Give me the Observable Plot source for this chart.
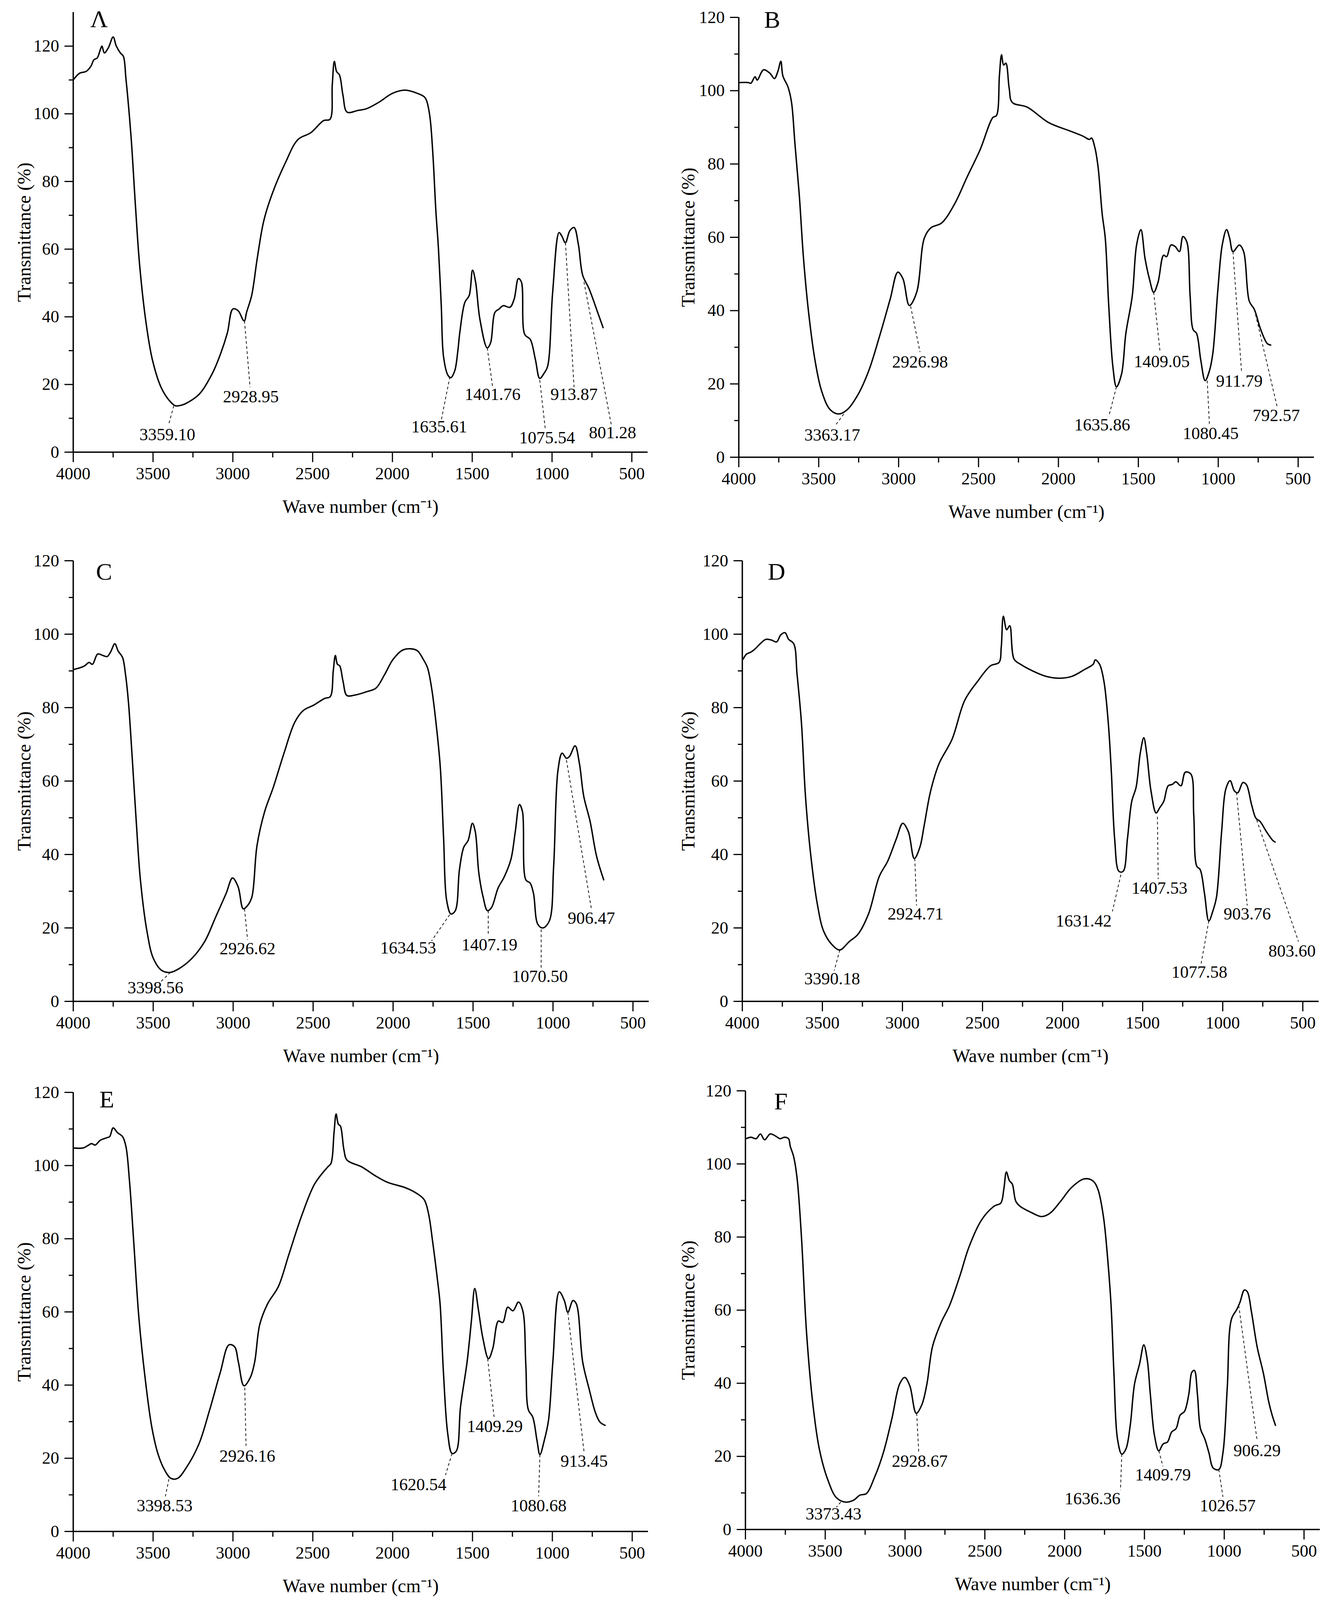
<!DOCTYPE html>
<html>
<head>
<meta charset="utf-8">
<script src="https://cdn.jsdelivr.net/npm/d3@7"></script>
<script src="https://cdn.jsdelivr.net/npm/@observablehq/plot@0.6"></script>
<style>
  html, body { margin: 0; padding: 0; background: #fff; overflow: hidden; }
  #page { position: relative; width: 3400px; height: 4284px; background: #fff; overflow: hidden; }
  .panel { position: absolute; }
  .panel svg { display: block; max-width: none !important; }
</style>
</head>
<body>
<div id="page"></div>
<script>
// ---------- axis ticks ----------
const majorX = [4000, 3500, 3000, 2500, 2000, 1500, 1000, 500];
const minorX = [3750, 3250, 2750, 2250, 1750, 1250, 750];
const majorY = [0, 20, 40, 60, 80, 100, 120];
const minorY = [10, 30, 50, 70, 90, 110];
const xTitle = "Wave number (cm\u207B\u00B9)";
const yTitle = "Transmittance (%)";

// ---------- panel A ----------
const waveA = [4000,3960,3920,3890,3870,3850,3830,3820,3805,3780,3750,3730,3705,3686,3670,3638,3611,3584,3544,3504,3450,3397,3360,3320,3289,3209,3128,3075,3034,3000,2967,2935,2927,2914,2882,2847,2806,2753,2672,2592,2512,2431,2391,2377,2364,2350,2332,2310,2284,2216,2163,2082,2002,1921,1841,1800,1787,1766,1747,1728,1712,1694,1680,1653,1635,1610,1590,1578,1546,1519,1498,1479,1452,1406,1385,1358,1332,1305,1264,1237,1211,1192,1171,1136,1104,1077,1050,1028,996,956,940,916,889,862,835,808,768,714,680];
const transA = [110,112,112.5,114,116,116.5,119,120,118,119.5,122.7,120,118,117,110.5,93.4,73.4,55.3,38.3,27.3,19.2,15.2,13.7,13.9,14.5,17.2,23.3,29.3,35.3,42.3,41.8,39,38.8,41.3,46.3,57.3,68.4,76.4,85.4,92.4,94.4,98,98.4,108.5,115.5,112.5,111.5,105.5,100.5,101,101.5,103.5,106,107,106,105,104,99.4,88.4,71.4,60.4,43.3,28.3,22.8,22,24,30,35.3,44.3,46.3,53.8,50.3,39.3,30.8,32.3,41.3,42.3,43.3,42.8,45.3,51.3,50.3,34.8,33.3,27.3,21.8,23.3,25.3,47.3,64.9,64,61.9,65.4,66.4,61.4,52.3,48.3,41.3,36.8];
const peakLabelA = ["3359.10","2928.95","1635.61","1401.76","1075.54","913.87","801.28"];
const peakWaveA = [3370, 2927, 1640, 1406, 1077, 916, 800];
const peakTransA = [13.7, 38.8, 22.3, 30.8, 21.3, 61.9, 50.3];
const leadWaveA = [3402, 2892, 1693, 1372, 1042, 862, 629];
const leadTransA = [8.2, 19.2, 9.7, 19.2, 6.7, 19.2, 8.2];
const textWaveA = [3410, 2887, 1707, 1372, 1031, 862, 621];
const textTransA = [5.2, 16.4, 7.4, 17, 4.2, 17, 5.7];

// ---------- panel B ----------
const waveB = [4000,3938,3925,3898,3885,3845,3804,3777,3756,3737,3724,3692,3670,3649,3622,3595,3563,3523,3482,3429,3375,3321,3254,3187,3120,3053,3005,2973,2933,2887,2839,2798,2731,2651,2571,2490,2410,2388,2369,2356,2343,2329,2308,2289,2195,2061,1927,1846,1806,1793,1771,1752,1726,1707,1685,1659,1637,1605,1578,1538,1511,1484,1458,1431,1404,1377,1342,1323,1296,1270,1243,1221,1197,1176,1157,1136,1109,1082,1055,1034,1002,975,948,929,908,868,841,806,774,734,693,672];
const transB = [102.2,102.2,102,103.8,102.9,105.7,104.7,103.3,105.2,108,104,101,96.8,85.7,71.8,54.2,39.4,26.4,18.1,13,11.8,13,17.1,23.6,32.9,43.1,50.5,48.7,41.4,45,59.8,62.6,63.9,69,76.5,83.9,92.7,93.2,104.3,109.8,107,107.5,100.6,96.8,95.5,91.3,89,87.6,86.7,87.1,84.3,79.2,66.3,59.8,41.2,24.6,19.2,22.7,33.8,44,57.9,62.1,54.2,48.7,45,47.7,55.1,54.7,57.9,57.5,56.1,60.2,58.8,44,34.8,33.8,26.4,20.9,23.6,28.3,45.9,57.9,62.1,59.8,56.1,57.9,56.1,42.6,40.3,34.8,31,30.6];
const peakLabelB = ["3363.17","2926.98","1635.86","1409.05","1080.45","911.79","792.57"];
const peakWaveB = [3343, 2925, 1637, 1404, 1069, 908, 774];
const peakTransB = [11.8, 41.2, 19.2, 45, 20.9, 56.1, 40.3];
const leadWaveB = [3394, 2866, 1685, 1364, 1055, 854, 632];
const leadTransB = [8.8, 28.7, 11.1, 28.7, 8.8, 23.2, 13.9];
const textWaveB = [3415, 2866, 1726, 1353, 1047, 868, 637];
const textTransB = [6, 26, 8.8, 26.1, 6.5, 20.7, 11.4];

// ---------- panel C ----------
const waveC = [3995,3954,3928,3901,3880,3847,3815,3788,3767,3740,3719,3692,3673,3655,3633,3606,3580,3539,3499,3446,3392,3339,3258,3178,3111,3044,3004,2969,2937,2910,2883,2851,2803,2749,2682,2615,2562,2495,2428,2393,2374,2361,2348,2334,2313,2289,2241,2160,2107,2053,1999,1933,1852,1812,1785,1759,1732,1705,1684,1665,1638,1611,1585,1558,1531,1504,1486,1464,1437,1410,1384,1344,1304,1263,1236,1210,1191,1170,1143,1122,1095,1063,1023,996,969,943,916,897,862,835,808,768,728,683];
const transC = [90.4,90.9,91.4,92.3,91.8,94.6,94.2,93.9,95.1,97.4,95.4,93.7,89,81.6,67.6,49,33.1,19.1,11.7,8.4,7.9,8.9,11.7,16.3,22.8,29.4,33.6,31.2,25.2,26.1,28.4,42.4,51.7,58.3,67.6,76,79.2,80.7,82.5,83,90,94.2,91.8,91.4,87.2,83.3,83.4,84.4,85.3,89,93.2,95.8,95.6,93.2,90.9,85.3,76,63.9,44.3,27.5,23.8,24.7,35.9,42,43.8,48.5,46.2,35,28.4,24.7,25.6,30.8,34,38.7,46.2,53.6,51.7,33.1,32.2,29.4,21,20,21.9,36.8,62.9,67.6,66.2,66.7,69.6,64.8,55.9,49,39.6,33.1];
const peakLabelC = ["3398.56","2926.62","1634.53","1407.19","1070.50","906.47"];
const peakWaveC = [3392, 2929, 1646, 1405, 1074, 916];
const peakTransC = [7.9, 25.2, 23.6, 24.7, 19.6, 65.7];
const leadWaveC = [3459, 2910, 1759, 1405, 1074, 760];
const leadTransC = [5.1, 16.8, 16.5, 18.2, 8.9, 25.2];
const textWaveC = [3486, 2910, 1906, 1397, 1082, 760];
const textTransC = [3.7, 14.3, 14.5, 15.4, 6.8, 22.6];

// ---------- panel D ----------
const waveD = [3995,3973,3947,3920,3888,3853,3818,3786,3760,3733,3711,3679,3658,3631,3605,3572,3532,3492,3439,3391,3332,3279,3212,3145,3092,3038,2998,2963,2926,2891,2864,2824,2771,2691,2611,2530,2450,2397,2383,2370,2349,2330,2303,2263,2183,2103,2023,1943,1862,1809,1796,1769,1742,1715,1696,1675,1648,1622,1595,1568,1541,1515,1493,1475,1448,1416,1394,1368,1341,1314,1293,1261,1234,1199,1181,1162,1141,1114,1087,1061,1039,1007,981,954,927,906,874,852,820,793,767,727,687,673];
const transD = [93.2,94.6,95.1,96,97.4,98.6,98.4,97.9,99.8,100.4,98.6,97.4,89,76,55.5,39.6,26.6,19.1,15.4,14,16.3,18.2,23.8,34,38.2,44.3,48.5,46.2,38.9,42,48,57.3,64.8,71.3,82,87.2,91.4,92.3,96.5,104.9,101.2,102.3,93.2,91.8,89.9,88.5,88,88.5,90.4,91.8,93,91.8,87.2,76,62.9,44.3,35.4,35.4,44.3,54.5,58.3,67.6,71.8,67.6,57.3,51.3,52.7,54.5,58.7,59.1,59.8,58.7,62.4,61.9,50.8,36.8,35.9,29.4,21.9,24.7,28.4,46.2,57.8,60.1,57.3,56.8,59.6,59,53.6,49.9,49,46.2,43.8,43.4];
const peakLabelD = ["3390.18","2924.71","1631.42","1407.53","1077.58","903.76","803.60"];
const peakWaveD = [3391, 2923, 1636, 1408, 1087, 914, 788];
const peakTransD = [14, 38.9, 34.5, 50.3, 21.9, 56.9, 49.4];
const leadWaveD = [3426, 2912, 1689, 1403, 1135, 847, 527];
const leadTransD = [8.4, 26.1, 24.5, 33.3, 10.3, 26.1, 16.3];
const textWaveD = [3439, 2918, 1868, 1395, 1146, 847, 567];
const textTransD = [6.1, 23.8, 21.9, 30.8, 7.9, 23.8, 13.7];

// ---------- panel E ----------
const waveE = [4000,3938,3911,3885,3863,3831,3790,3772,3750,3723,3691,3670,3648,3621,3589,3549,3508,3468,3428,3388,3347,3294,3213,3146,3079,3025,2990,2966,2931,2891,2864,2832,2783,2716,2649,2568,2488,2407,2386,2367,2354,2340,2327,2305,2286,2192,2112,2031,1924,1857,1803,1776,1749,1722,1703,1682,1655,1628,1601,1575,1534,1507,1486,1462,1435,1400,1373,1338,1311,1279,1247,1212,1185,1166,1150,1123,1096,1078,1051,1024,997,957,925,903,871,850,810,769,729,702,670];
const transE = [104.8,104.8,105.4,106,105.6,106.9,107.6,107.9,110.3,109,107.9,105.2,95.9,79,58.5,41.6,28.5,21,16.8,14.5,14.5,17.3,23.9,33.2,43.5,51,50.5,46.3,39.8,42.1,46.3,56.6,62.2,66.9,75.8,86.5,95,99.6,100.6,109,114.1,111.3,110.8,104.3,101.5,99.6,97.3,95.4,94,92.6,90.7,87,79,69.7,62.2,43.5,26.7,21.3,22,34.1,46.3,57.5,66.4,60.3,52.8,47.2,50,57.5,57.1,61.3,60.3,62.7,60.3,45.4,33.2,31.3,24.8,21,24.8,30.4,46.3,65.5,63.1,59.9,63.1,62.2,46.3,38.8,32.3,29.9,29];
const peakLabelE = ["3398.53","2926.16","1620.54","1409.29","1080.68","913.45"];
const peakWaveE = [3401, 2926, 1628, 1405, 1078, 903];
const peakTransE = [14.3, 39.3, 21.3, 47.2, 21, 59.9];
const leadWaveE = [3423, 2918, 1669, 1365, 1086, 801];
const leadTransE = [9.6, 23.4, 15.4, 31.3, 9.6, 21.5];
const textWaveE = [3428, 2910, 1838, 1360, 1086, 801];
const textTransE = [7, 20.6, 12.8, 28.7, 7, 19.2];

// ---------- panel F ----------
const waveF = [3997,3965,3933,3906,3880,3845,3810,3783,3756,3730,3719,3698,3676,3649,3617,3577,3537,3484,3430,3376,3323,3283,3243,3189,3136,3082,3034,3002,2970,2930,2895,2863,2828,2774,2721,2654,2600,2520,2440,2400,2381,2365,2346,2328,2306,2279,2199,2145,2092,2025,1958,1878,1824,1792,1757,1731,1709,1691,1669,1642,1616,1589,1562,1530,1504,1482,1463,1437,1410,1383,1356,1329,1302,1276,1249,1222,1203,1187,1168,1149,1122,1096,1069,1034,1008,981,955,920,901,874,855,829,794,754,722,700,679];
const transF = [106.9,107.3,106.9,108.2,106.6,108.2,107.6,106.9,107.3,106.9,104.8,102,95.9,80,53.8,34.1,22,13.6,8.7,7.5,8,9.4,9.8,14.5,21,30.4,39.8,41.6,39.3,31.8,34.1,39.8,50,56.6,61.3,69.7,77.2,84.7,88.5,89.3,93.1,97.8,95.4,94.5,89.8,88.4,86.5,85.6,86.5,89.8,93.5,95.9,95.4,93.1,85.6,74.4,61.3,42.6,24.8,20.6,22,28.5,39.8,45.4,50.5,46.3,37,25.7,21.5,23.4,23.9,26.7,27.6,31.3,32.3,37,43,43.5,37,27.6,24.8,21,16.8,16.4,21,38.8,57.5,60.3,62.2,65.5,65,59.4,50,42.6,35.1,31.3,28.5];
const peakLabelF = ["3373.43","2928.67","1636.36","1409.79","1026.57","906.29"];
const peakWaveF = [3403, 2927, 1642, 1410, 1034, 909];
const peakTransF = [7.5, 31.8, 20.6, 21.5, 16.4, 61.3];
const leadWaveF = [3430, 2914, 1650, 1384, 1008, 794];
const leadTransF = [6.1, 21, 10.8, 17.3, 8.9, 24.3];
const textWaveF = [3448, 2908, 1825, 1384, 978, 794];
const textTransF = [4.2, 18.7, 8.4, 14.9, 6.5, 21.5];

// ---------- panel letters ----------
const panelLetters = ["\u039B", "B", "C", "D", "E", "F"];
const letterWave = [3838, 3791, 3807, 3786, 3790, 3778];
const letterTrans = [128, 119.3, 117, 117, 118, 117];
const yMax = [130, 120, 120, 120, 120, 120];

// ---------- layout (pixels, for a 4284 px tall page) ----------
const panels = [
  {wave: waveA, trans: transA, pl: peakLabelA, pw: peakWaveA, pt: peakTransA, lw: leadWaveA, lt: leadTransA, tw: textWaveA, tt: textTransA,
   left: 0, top: 0, h: 1420, mL: 187, mR: 42, mT: 32, mB: 210},
  {wave: waveB, trans: transB, pl: peakLabelB, pw: peakWaveB, pt: peakTransB, lw: leadWaveB, lt: leadTransB, tw: textWaveB, tt: textTransB,
   left: 1700, top: 0, h: 1420, mL: 191, mR: 36, mT: 46, mB: 197},
  {wave: waveC, trans: transC, pl: peakLabelC, pw: peakWaveC, pt: peakTransC, lw: leadWaveC, lt: leadTransC, tw: textWaveC, tt: textTransC,
   left: 0, top: 1420, h: 1430, mL: 187, mR: 39, mT: 81, mB: 169},
  {wave: waveD, trans: transD, pl: peakLabelD, pw: peakWaveD, pt: peakTransD, lw: leadWaveD, lt: leadTransD, tw: textWaveD, tt: textTransD,
   left: 1700, top: 1420, h: 1430, mL: 200, mR: 24, mT: 81, mB: 169},
  {wave: waveE, trans: transE, pl: peakLabelE, pw: peakWaveE, pt: peakTransE, lw: leadWaveE, lt: leadTransE, tw: textWaveE, tt: textTransE,
   left: 0, top: 2850, h: 1434, mL: 187, mR: 41, mT: 74, mB: 184},
  {wave: waveF, trans: transF, pl: peakLabelF, pw: peakWaveF, pt: peakTransF, lw: leadWaveF, lt: leadTransF, tw: textWaveF, tt: textTransF,
   left: 1700, top: 2850, h: 1434, mL: 208, mR: 21, mT: 70, mB: 189}
];

const page = document.getElementById("page");
const viewH = window.innerHeight || 4284;
const s = Math.min(1, viewH / 4284);
page.style.height = Math.round(4284 * s) + "px";
const AXW = 3.5;

panels.forEach((p, i) => {
  const series = p.wave.map((w, k) => ({w, t: p.trans[k]}));
  const notes = p.pl.map((label, k) => ({label, x1: p.pw[k], y1: p.pt[k], x2: p.lw[k], y2: p.lt[k], tx: p.tw[k], ty: p.tt[k]}));
  const H = Math.round(p.h * s);
  const mT = Math.round(p.mT * s);
  const mB = Math.round(p.mB * s);
  const chart = Plot.plot({
    width: 1700,
    height: H,
    marginLeft: p.mL,
    marginRight: p.mR,
    marginTop: mT,
    marginBottom: mB,
    style: {fontFamily: "'Liberation Serif', 'Times New Roman', serif", background: "#fff", color: "#000", overflow: "visible"},
    x: {domain: [4000, 400], axis: null},
    y: {domain: [0, yMax[i]], axis: null},
    marks: [
      Plot.axisX({ticks: minorX, tickSize: 14, tickFormat: () => "", label: null, strokeWidth: 3}),
      Plot.axisX({ticks: majorX, tickSize: 26, tickPadding: 12, fontSize: 44, label: null, strokeWidth: 3, tickFormat: d => String(d)}),
      Plot.axisY({ticks: minorY, tickSize: 11, tickFormat: () => "", label: null, strokeWidth: 3}),
      Plot.axisY({ticks: majorY, tickSize: 22, tickPadding: 14, fontSize: 44, label: null, strokeWidth: 3, tickFormat: d => String(d)}),
      Plot.ruleY([0], {stroke: "#000", strokeWidth: AXW}),
      Plot.ruleX([4000], {stroke: "#000", strokeWidth: AXW}),
      Plot.line(series, {x: "w", y: "t", stroke: "#000", strokeWidth: 3.6, strokeLinejoin: "round", curve: "catmull-rom"}),
      Plot.link(notes, {x1: "x1", y1: "y1", x2: "x2", y2: "y2", stroke: "#000", strokeWidth: 1.8, strokeDasharray: "7,6"}),
      Plot.text(notes, {x: "tx", y: "ty", text: "label", fontSize: 44, fill: "#000", textAnchor: "middle", lineAnchor: "middle"}),
      Plot.text([panelLetters[i]], {x: letterWave[i], y: letterTrans[i], text: d => d, fontSize: 62, fill: "#000", textAnchor: "middle", lineAnchor: "middle"}),
      Plot.text([yTitle], {frameAnchor: "left", dx: -(p.mL - 62), rotate: -90, text: d => d, fontSize: 48, fill: "#000", textAnchor: "middle", lineAnchor: "middle"}),
      Plot.text([xTitle], {frameAnchor: "bottom", dy: Math.round(146 * s), text: d => d, fontSize: 48, fill: "#000", textAnchor: "middle", lineAnchor: "middle"})
    ]
  });
  const holder = document.createElement("div");
  holder.className = "panel";
  holder.style.left = p.left + "px";
  holder.style.top = Math.round(p.top * s) + "px";
  holder.style.width = "1700px";
  holder.appendChild(chart);
  page.appendChild(holder);
});
</script>
</body>
</html>
